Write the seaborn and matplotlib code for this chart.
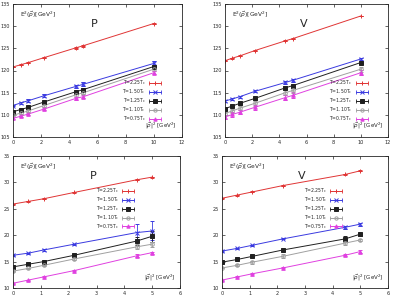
import numpy as np
import pandas as pd
import matplotlib
matplotlib.use('Agg')
import matplotlib.pyplot as plt
from matplotlib.lines import Line2D
from matplotlib.legend_handler import HandlerLine2D, HandlerTuple
import seaborn as sns

# momentum squared values
p2_top = [0, 0.55, 1.1, 2.2, 4.45, 5.0, 10.0]
p2_bot = [0, 0.55, 1.1, 2.2, 4.45, 5.0]

labels = [r'T=2.25$\mathregular{T_c}$', r'T=1.50$\mathregular{T_c}$',
          r'T=1.25$\mathregular{T_c}$', r'T=1.10$\mathregular{T_c}$',
          r'T=0.75$\mathregular{T_c}$']
colors = ['#e03535', '#3a3ae0', '#202020', '#a0a0a0', '#e040e0']
markers = ['+', 'x', 's', 'o', '^']
filled = [True, True, True, False, True]

# top-left: P, large mass
P_top = [
    [120.8, 121.3, 121.8, 122.9, 125.1, 125.6, 130.6],
    [112.1, 112.7, 113.2, 114.3, 116.4, 116.9, 121.6],
    [110.7, 111.2, 111.7, 112.9, 115.2, 115.7, 120.9],
    [109.9, 110.4, 110.9, 112.1, 114.5, 115.0, 120.3],
    [109.2, 109.7, 110.2, 111.3, 113.7, 114.1, 119.5],
]
P_top_err = [
    [0.1, 0.1, 0.1, 0.1, 0.2, 0.2, 0.2],
    [0.2, 0.3, 0.3, 0.3, 0.4, 0.5, 0.5],
    [0.2, 0.2, 0.3, 0.3, 0.4, 0.4, 0.4],
    [0.2, 0.2, 0.2, 0.3, 0.4, 0.4, 0.4],
    [0.2, 0.2, 0.3, 0.3, 0.4, 0.4, 0.4],
]

# top-right: V, large mass
V_top = [
    [122.2, 122.8, 123.3, 124.5, 126.7, 127.2, 132.3],
    [113.1, 113.6, 114.1, 115.3, 117.3, 117.8, 122.6],
    [111.4, 112.0, 112.6, 113.7, 116.1, 116.6, 121.8],
    [110.3, 110.9, 111.5, 112.6, 115.0, 115.5, 120.3],
    [109.5, 110.1, 110.6, 111.7, 113.9, 114.4, 119.5],
]
V_top_err = [
    [0.1, 0.1, 0.1, 0.1, 0.1, 0.1, 0.1],
    [0.2, 0.2, 0.2, 0.2, 0.3, 0.3, 0.3],
    [0.2, 0.2, 0.3, 0.3, 0.3, 0.3, 0.4],
    [0.3, 0.4, 0.4, 0.5, 0.5, 0.6, 0.6],
    [0.4, 0.5, 0.5, 0.6, 0.6, 0.7, 0.6],
]

# bottom-left: P, small mass
P_bot = [
    [25.9, 26.4, 26.9, 28.1, 30.5, 31.0],
    [16.2, 16.6, 17.2, 18.3, 20.5, 20.8],
    [14.0, 14.5, 15.0, 16.2, 18.9, 19.8],
    [13.2, 13.7, 14.3, 15.5, 17.8, 18.3],
    [10.9, 11.5, 12.1, 13.3, 16.1, 16.7],
]
P_bot_err = [
    [0.1, 0.1, 0.1, 0.1, 0.1, 0.1],
    [0.1, 0.1, 0.1, 0.1, 1.7, 1.8],
    [0.1, 0.1, 0.1, 0.2, 0.8, 1.0],
    [0.1, 0.1, 0.1, 0.2, 0.5, 0.5],
    [0.1, 0.1, 0.1, 0.1, 0.3, 0.2],
]

# bottom-right: V, small mass
V_bot = [
    [27.0, 27.6, 28.2, 29.4, 31.5, 32.2],
    [17.0, 17.5, 18.1, 19.3, 21.5, 22.1],
    [14.9, 15.4, 16.0, 17.2, 19.3, 20.2],
    [13.8, 14.3, 14.9, 16.0, 18.5, 19.1],
    [11.5, 12.1, 12.7, 13.8, 16.2, 16.9],
]
V_bot_err = [
    [0.1, 0.1, 0.1, 0.1, 0.1, 0.1],
    [0.1, 0.1, 0.1, 0.1, 0.3, 0.3],
    [0.1, 0.1, 0.2, 0.2, 0.5, 0.3],
    [0.1, 0.2, 0.3, 0.4, 0.3, 0.2],
    [0.1, 0.1, 0.1, 0.1, 0.2, 0.3],
]

sns.set_style('ticks')
plt.rcParams['font.family'] = ['DejaVu Sans']

fig = plt.figure(figsize=(3.95, 3.01), dpi=100)
boxes = [
    [13 / 395, 1 - 137 / 301, 169 / 395, 133 / 301],
    [225 / 395, 1 - 137 / 301, 163 / 395, 133 / 301],
    [13 / 395, 1 - 288 / 301, 167 / 395, 132 / 301],
    [222 / 395, 1 - 288 / 301, 166 / 395, 132 / 301],
]
panels = [
    (p2_top, P_top, P_top_err, 'P', (105, 135, 5), (0, 12, 2), 'lower'),
    (p2_top, V_top, V_top_err, 'V', (105, 135, 5), (0, 12, 2), 'lower'),
    (p2_bot, P_bot, P_bot_err, 'P', (10, 35, 5), (0, 6, 1), 'upper'),
    (p2_bot, V_bot, V_bot_err, 'V', (10, 35, 5), (0, 6, 1), 'upper'),
]

for box, (xs, ys, es, name, ylim, xlim, legpos) in zip(boxes, panels):
    ax = fig.add_axes(box)
    handles = []
    hmap = {}
    for lab, col, mk, fl, y, e in zip(labels, colors, markers, filled, ys, es):
        df = pd.DataFrame({'p2': xs, 'E2': y})
        sns.lineplot(data=df, x='p2', y='E2', color=col, lw=0.7, ax=ax,
                     legend=False)
        ax.errorbar(xs, y, yerr=e, fmt=mk, color=col, ms=2.6, mew=0.7,
                    elinewidth=0.6, capsize=1.3, capthick=0.5,
                    mfc=col if fl else 'none')
        # gnuplot-like key sample: line with end caps and a marker in the middle
        cap = Line2D([0], [0], color=col, lw=0.7, marker='|', ms=2.5, mew=0.6)
        mid = Line2D([0], [0], color=col, lw=0, marker=mk, ms=2.4, mew=0.7,
                     mfc=col if fl else 'none')
        hmap[cap] = HandlerLine2D(numpoints=2)
        handles.append((cap, mid))
    hmap[tuple] = HandlerTuple(ndivide=1)
    ax.set_xlim(xlim[0], xlim[1])
    ax.set_ylim(ylim[0], ylim[1])
    ax.set_xticks(np.arange(xlim[0], xlim[1] + 0.01, xlim[2]))
    ax.set_yticks(np.arange(ylim[0], ylim[1] + 0.01, ylim[2]))
    ax.tick_params(direction='in', length=2, width=0.5, labelsize=3.6,
                   top=True, right=True, pad=2)
    for s in ax.spines.values():
        s.set_linewidth(0.6)
    ax.set_xlabel('')
    ax.set_ylabel('')
    ax.text(0.04, 0.915, r'E$^2$($\vec{p}$)[GeV$^2$]', transform=ax.transAxes,
            fontsize=4.2, va='center')
    ax.text(0.46, 0.85, name, transform=ax.transAxes, fontsize=8, va='center')
    ax.text(0.97, 0.08, r'$|\vec{p}|^2$ [GeV$^2$]', transform=ax.transAxes,
            fontsize=4.0, ha='right', va='center')
    if legpos == 'lower':
        anchor = (0.90, 0.46)
    else:
        anchor = (0.75, 0.79)
    ax.legend(handles=handles, labels=labels, handler_map=hmap,
              loc='upper right', bbox_to_anchor=anchor, fontsize=3.3,
              frameon=False, handlelength=3.2, markerfirst=False,
              labelspacing=0.0, handletextpad=0.4, borderpad=0.1)

fig.savefig('out.png', dpi=100)
